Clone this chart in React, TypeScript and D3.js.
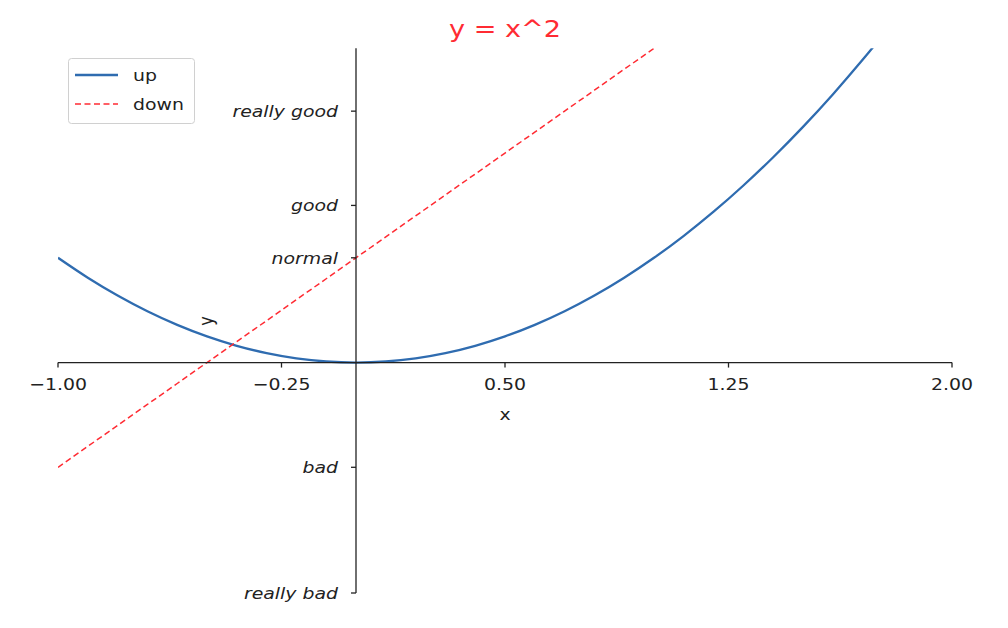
import React from "react";
import * as d3 from "d3";

const xValues = [-1.0, -0.9, -0.8, -0.7, -0.6, -0.5, -0.4, -0.3, -0.2, -0.1, 0.0, 0.1, 0.2, 0.3, 0.4, 0.5, 0.6, 0.7, 0.8, 0.9, 1.0, 1.1, 1.2, 1.3, 1.4, 1.5, 1.6, 1.7, 1.8, 1.9, 2.0];
const upValues = [1, 0.81, 0.64, 0.49, 0.36, 0.25, 0.16, 0.09, 0.04, 0.01, 0, 0.01, 0.04, 0.09, 0.16, 0.25, 0.36, 0.49, 0.64, 0.81, 1, 1.21, 1.44, 1.69, 1.96, 2.25, 2.56, 2.89, 3.24, 3.61, 4];
const downValues = [-1, -0.8, -0.6, -0.4, -0.2, 0, 0.2, 0.4, 0.6, 0.8, 1, 1.2, 1.4, 1.6, 1.8, 2, 2.2, 2.4, 2.6, 2.8, 3, 3.2, 3.4, 3.6, 3.8, 4, 4.2, 4.4, 4.6, 4.8, 5];
const xTicks = [-1, -0.25, 0.5, 1.25, 2];
const xTickLabels = ["\u22121.00", "\u22120.25", "0.50", "1.25", "2.00"];
const yTicks = [-2.2, -1, 1, 1.5, 2.4];
const yTickLabels = ["really bad", "bad", "normal", "good", "really good"];
const xDomain = [-1, 2];
const yDomain = [-2.2, 3];

const SX = 1.18;

function T(props: { x: number; y: number; size: number; anchor?: string; italic?: boolean; fill?: string; rotate?: number; children: React.ReactNode }) {
  const { x, y, size, anchor = "start", italic = false, fill = "#222", rotate = 0, children } = props;
  return (
    <text
      transform={`translate(${x},${y}) scale(${SX},1)${rotate ? ` rotate(${rotate})` : ""}`}
      textAnchor={anchor}
      fontSize={size}
      fontStyle={italic ? "italic" : "normal"}
      fill={fill}
    >
      {children}
    </text>
  );
}

export default function App() {
  const left = 58, right = 952, top = 48.3, bottom = 593;
  const x = d3.scaleLinear().domain(xDomain).range([left, right]);
  const y = d3.scaleLinear().domain(yDomain).range([bottom, top]);
  const x0 = x(0);
  const y0 = y(0);
  const up = xValues.map((v, i) => [v, upValues[i]] as [number, number]);
  const down = xValues.map((v, i) => [v, downValues[i]] as [number, number]);
  const line = d3.line<[number, number]>().x(d => x(d[0])).y(d => y(d[1])).curve(d3.curveMonotoneX);
  const font = "DejaVu Sans, Verdana, sans-serif";
  const blue = "#2f6cb0";
  const red = "#ff2b33";
  const fs = 16;
  return (
    <svg width={1008} height={628} style={{ position: "absolute", left: 0, top: 0, background: "#fff" }} fontFamily={font}>
      <defs>
        <clipPath id="plotclip">
          <rect x={left} y={top} width={right - left} height={bottom - top} />
        </clipPath>
      </defs>
      <T x={505} y={37} size={23} anchor="middle" fill={red}>y = x^2</T>
      <g clipPath="url(#plotclip)">
        <path d={line(up) || ""} fill="none" stroke={blue} strokeWidth={2.3} />
        <path d={line(down) || ""} fill="none" stroke={red} strokeWidth={1.5} strokeDasharray="6,3.5" />
      </g>
      {/* x axis */}
      <line x1={left} x2={right} y1={y0} y2={y0} stroke="#222" strokeWidth={1.3} />
      {xTicks.map((t, i) => (
        <g key={"xt" + i}>
          <line x1={x(t)} x2={x(t)} y1={y0} y2={y0 + 5} stroke="#222" strokeWidth={1.3} />
          <T x={x(t)} y={y0 + 27} size={fs} anchor="middle">{xTickLabels[i]}</T>
        </g>
      ))}
      <T x={505} y={420} size={fs} anchor="middle">x</T>
      {/* y axis */}
      <line x1={x0} x2={x0} y1={top} y2={bottom} stroke="#222" strokeWidth={1.3} />
      {yTicks.map((t, i) => (
        <g key={"yt" + i}>
          <line x1={x0 - 5} x2={x0} y1={y(t)} y2={y(t)} stroke="#222" strokeWidth={1.3} />
          <T x={x0 - 18} y={y(t) + 6} size={fs} anchor="end" italic>{yTickLabels[i]}</T>
        </g>
      ))}
      <T x={213} y={321} size={fs} anchor="middle" rotate={-90}>y</T>
      {/* legend */}
      <rect x={68.5} y={58.5} width={126} height={65} rx={3} fill="#fff" fillOpacity={0.8} stroke="#d0d0d0" strokeWidth={1} />
      <line x1={75} x2={118} y1={75} y2={75} stroke={blue} strokeWidth={2.3} />
      <T x={133} y={81} size={fs}>up</T>
      <line x1={75} x2={118} y1={104} y2={104} stroke={red} strokeWidth={1.5} strokeDasharray="6,3.5" />
      <T x={133} y={110} size={fs}>down</T>
    </svg>
  );
}
